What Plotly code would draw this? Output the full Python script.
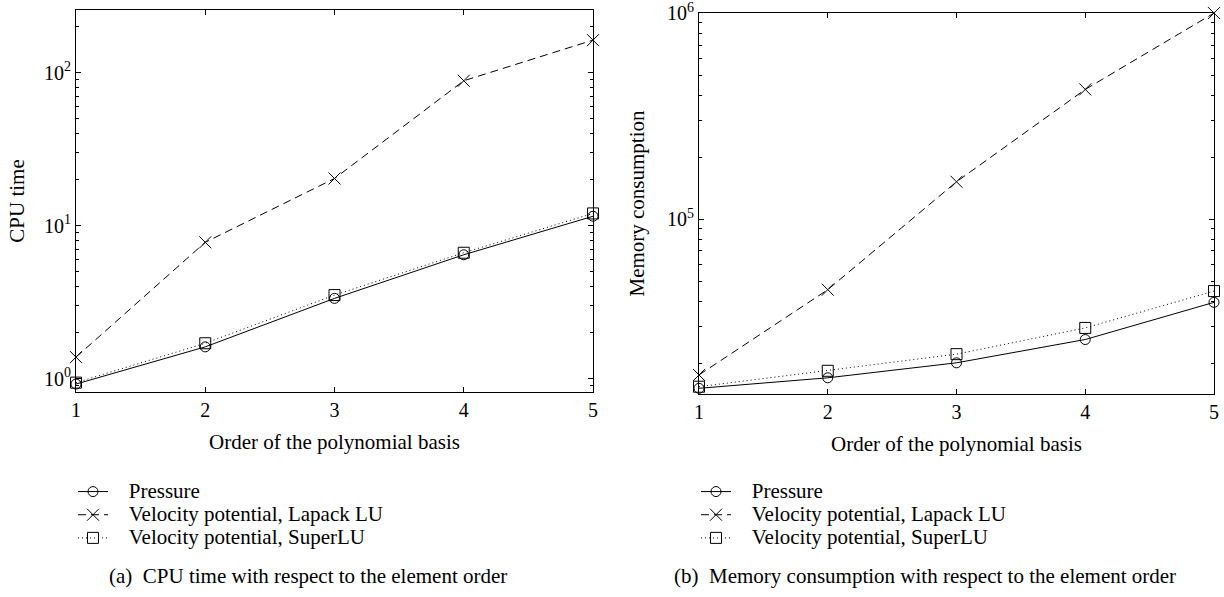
import plotly.graph_objects as go

# Element order (polynomial degree) on the x axis
order = [1, 2, 3, 4, 5]
order_ticks = ["1", "2", "3", "4", "5"]

# CPU time per element order
cpu_pressure = [0.92, 1.61, 3.34, 6.44, 11.5]
cpu_lapack = [1.38, 7.77, 20.3, 88.4, 163.0]
cpu_superlu = [0.94, 1.70, 3.51, 6.64, 12.0]

# Memory consumption per element order
mem_pressure = [15070, 16950, 20040, 26000, 39400]
mem_lapack = [17500, 45400, 151700, 426000, 1000000]
mem_superlu = [15340, 18330, 22080, 29600, 44700]

series_names = ["Pressure", "Velocity potential, Lapack LU", "Velocity potential, SuperLU"]

cpu_ticks = [1, 10, 100]
cpu_ticktext = ["10<sup>0</sup>", "10<sup>1</sup>", "10<sup>2</sup>"]
mem_ticks = [1e5, 1e6]
mem_ticktext = ["10<sup>5</sup>", "10<sup>6</sup>"]

x_title = "Order of the polynomial basis"
captions = ["(a)\u00a0\u00a0CPU time with respect to the element order",
            "(b)\u00a0\u00a0Memory consumption with respect to the element order"]

W, H = 1224, 597
FONT = "Liberation Serif"
TXT = 21

styles = [
    dict(dash="solid", symbol="circle-open", size=10),
    dict(dash="8px,5px", symbol="x-thin-open", size=12),
    dict(dash="1px,3px", symbol="square-open", size=11),
]

fig = go.Figure()

panels = [
    (("x", "y"), [cpu_pressure, cpu_lapack, cpu_superlu], "legend"),
    (("x2", "y2"), [mem_pressure, mem_lapack, mem_superlu], "legend2"),
]

for (xa, ya), values, leg in panels:
    for name, vals, st in zip(series_names, values, styles):
        fig.add_trace(go.Scatter(
            x=order, y=vals, xaxis=xa, yaxis=ya,
            mode="lines+markers",
            name="<span style='font-size:%dpx'>\u00a0\u00a0\u00a0%s</span>" % (TXT, name),
            legend=leg,
            cliponaxis=False,
            line=dict(color="black", width=1, dash=st["dash"]),
            marker=dict(symbol=st["symbol"], size=st["size"], color="black",
                        line=dict(color="black", width=1)),
        ))

axis_common = dict(
    showline=True, linecolor="black", linewidth=1, mirror="allticks",
    ticks="inside", ticklen=5, tickcolor="black", showgrid=False, zeroline=False,
    tickfont=dict(family=FONT, size=20, color="black"),
    ticklabeloverflow="allow",
)

xcommon = dict(axis_common, range=[1, 5], tickvals=order, ticktext=order_ticks,
               title=dict(text=x_title, font=dict(family=FONT, size=TXT, color="black"),
                          standoff=14))

minor = dict(ticks="inside", ticklen=3, tickcolor="black", dtick="D1", showgrid=False)

fig.update_layout(
    width=W, height=H,
    margin=dict(l=0, r=0, t=0, b=0, pad=0, autoexpand=False),
    paper_bgcolor="white", plot_bgcolor="white",
    font=dict(family=FONT, color="black"),
    xaxis=dict(xcommon, domain=[76 / W, 593 / W], anchor="y"),
    yaxis=dict(axis_common, type="log", range=[-0.0882, 2.409], domain=[1 - 392 / H, 1 - 10 / H],
               anchor="x", tickvals=cpu_ticks, ticktext=cpu_ticktext, minor=minor,
               title=dict(text="CPU time", font=dict(family=FONT, size=TXT, color="black"),
                          standoff=13)),
    xaxis2=dict(xcommon, domain=[699 / W, 1214 / W], anchor="y2"),
    yaxis2=dict(axis_common, type="log", range=[4.1505, 6.0005], domain=[1 - 394 / H, 1 - 13 / H],
                anchor="x2", tickvals=mem_ticks, ticktext=mem_ticktext, minor=minor,
                title=dict(text="Memory consumption", font=dict(family=FONT, size=TXT, color="black"),
                           standoff=16)),
    legend=dict(x=73 / W, y=1 - 475 / H, xanchor="left", yanchor="top",
                bgcolor="rgba(0,0,0,0)", font=dict(family=FONT, size=15.5, color="black")),
    legend2=dict(x=696 / W, y=1 - 475 / H, xanchor="left", yanchor="top",
                 bgcolor="rgba(0,0,0,0)", font=dict(family=FONT, size=15.5, color="black")),
    showlegend=True,
)

for cx, text in zip([107 / W, 672 / W], captions):
    fig.add_annotation(x=cx, y=1 - 576 / H, xref="paper", yref="paper",
                       xanchor="left", yanchor="middle", showarrow=False, text=text,
                       font=dict(family=FONT, size=TXT, color="black"))

fig.write_html("out.html")
